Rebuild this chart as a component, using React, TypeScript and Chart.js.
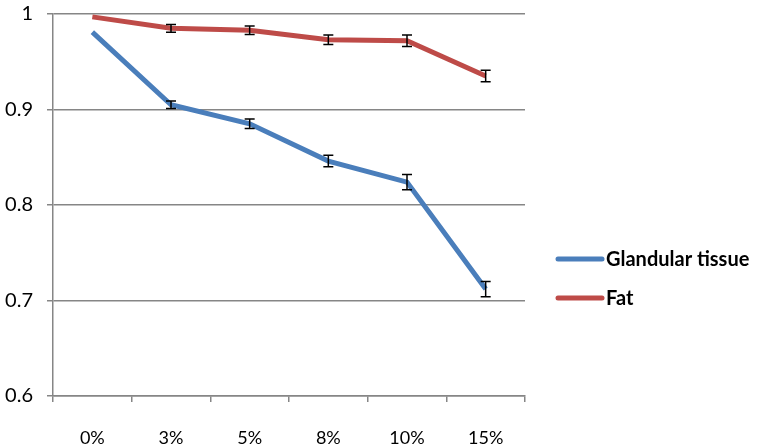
import React, { useEffect, useRef } from "react";
import { Chart, registerables } from "chart.js";

Chart.register(...registerables);

const categories = ["0%", "3%", "5%", "8%", "10%", "15%"];
const glandular = [0.981, 0.905, 0.885, 0.846, 0.824, 0.712];
const glandularErr = [0, 0.004, 0.005, 0.006, 0.008, 0.008];
const fat = [0.997, 0.985, 0.983, 0.973, 0.972, 0.935];
const fatErr = [0, 0.004, 0.0045, 0.005, 0.006, 0.006];
const seriesNames = ["Glandular tissue", "Fat"];
const yTicks = [0.6, 0.7, 0.8, 0.9, 1];

const FONT = "Lato, 'Open Sans', sans-serif";

const errorBarPlugin = {
  id: "errorBars",
  afterDatasetsDraw(chart: any) {
    const ctx = chart.ctx;
    const xs = chart.scales.x;
    const ys = chart.scales.y;
    ctx.save();
    ctx.strokeStyle = "#000";
    ctx.lineWidth = 1.5;
    chart.data.datasets.forEach((ds: any) => {
      const errs: number[] = ds.errors || [];
      ds.data.forEach((v: number, i: number) => {
        const e = errs[i];
        if (!e) return;
        const x = xs.getPixelForValue(i);
        const y1 = ys.getPixelForValue(v + e);
        const y2 = ys.getPixelForValue(v - e);
        const cap = 5;
        ctx.beginPath();
        ctx.moveTo(x, y1);
        ctx.lineTo(x, y2);
        ctx.moveTo(x - cap, y1);
        ctx.lineTo(x + cap, y1);
        ctx.moveTo(x - cap, y2);
        ctx.lineTo(x + cap, y2);
        ctx.stroke();
      });
    });
    ctx.restore();
  },
};

const legendPlugin = {
  id: "customLegend",
  afterDraw(chart: any) {
    const ctx = chart.ctx;
    ctx.save();
    const x0 = chart.chartArea.right + 33;
    const startY = 259;
    const gap = 39;
    chart.data.datasets.forEach((ds: any, i: number) => {
      const y = startY + i * gap;
      ctx.strokeStyle = ds.borderColor;
      ctx.lineWidth = 5;
      ctx.lineCap = "round";
      ctx.beginPath();
      ctx.moveTo(x0, y);
      ctx.lineTo(x0 + 44, y);
      ctx.stroke();
      ctx.fillStyle = "#000";
      ctx.font = `bold 20px ${FONT}`;
      ctx.textBaseline = "middle";
      ctx.textAlign = "left";
      ctx.fillText(ds.label, x0 + 48, y + 1);
    });
    ctx.restore();
  },
};

export default function App() {
  const ref = useRef<HTMLCanvasElement>(null);
  useEffect(() => {
    if (!ref.current) return;
    const chart = new Chart(ref.current, {
      type: "line",
      data: {
        labels: categories,
        datasets: [
          {
            label: seriesNames[0],
            data: glandular,
            errors: glandularErr,
            borderColor: "#4A7EBB",
            borderWidth: 5,
            pointRadius: 0,
            tension: 0,
            fill: false,
          } as any,
          {
            label: seriesNames[1],
            data: fat,
            errors: fatErr,
            borderColor: "#BE4B48",
            borderWidth: 5,
            pointRadius: 0,
            tension: 0,
            fill: false,
          } as any,
        ],
      },
      options: {
        animation: false,
        responsive: false,
        maintainAspectRatio: false,
        layout: { padding: { top: 14, right: 237, left: 0, bottom: 0 } },
        plugins: { legend: { display: false }, tooltip: { enabled: false } },
        scales: {
          x: {
            offset: true,
            grid: {
              offset: true,
              drawOnChartArea: false,
              drawTicks: true,
              tickLength: 6,
              color: "#868686",
              lineWidth: 1.5,
            },
            border: { color: "#868686", width: 1.5 },
            ticks: { color: "#000", font: { family: FONT, size: 18 }, padding: 25 },
            afterFit(scale: any) {
              scale.height = 49;
              scale.paddingLeft = 0;
              scale.paddingRight = 0;
            },
          },
          y: {
            min: 0.6,
            max: 1,
            afterBuildTicks(scale: any) {
              scale.ticks = yTicks.map((v) => ({ value: v }));
            },
            grid: { color: "#868686", lineWidth: 1.5, tickLength: 6 },
            border: { color: "#868686", width: 1.5 },
            ticks: {
              color: "#000",
              font: { family: FONT, size: 20 },
              padding: 14,
              callback: (v: any) => String(Number(Number(v).toFixed(1))),
            },
            afterFit(scale: any) {
              scale.width = 53;
              scale.paddingTop = 0;
              scale.paddingBottom = 0;
            },
          },
        },
      },
      plugins: [errorBarPlugin, legendPlugin],
    });
    return () => chart.destroy();
  }, []);
  return (
    <div style={{ position: "fixed", left: 0, top: 0, width: 762, height: 445, background: "#fff" }}>
      <canvas ref={ref} width={762} height={445} style={{ display: "block" }} />
    </div>
  );
}
